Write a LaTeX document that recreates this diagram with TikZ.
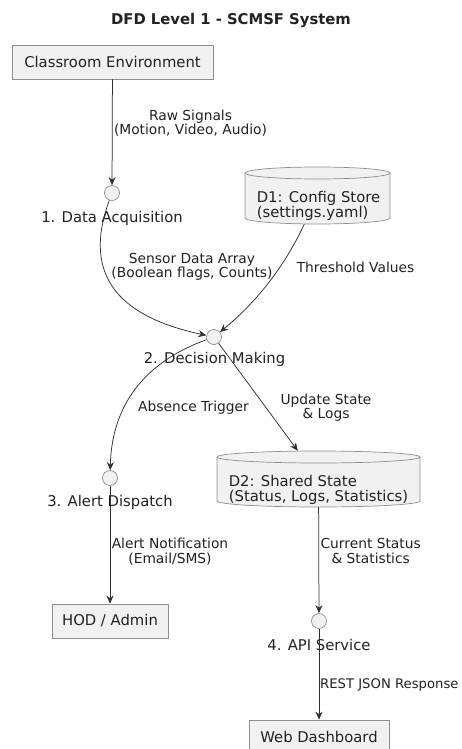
\documentclass[tikz,border=0pt]{standalone}
\usepackage{fontspec}
\setmainfont{DejaVu Sans}
\usetikzlibrary{arrows.meta}
\definecolor{boxfill}{HTML}{F1F1F1}
\definecolor{boxline}{HTML}{8E8E8E}
\definecolor{flowline}{HTML}{303030}
\definecolor{txt}{HTML}{222222}
\begin{document}
\begin{tikzpicture}[x=1pt,y=-1pt,
  entity/.style={draw=boxline, fill=boxfill, line width=0.7pt, minimum height=34pt, inner sep=0pt, text=txt, font=\fontsize{14.8}{15.5}\selectfont},
  proc/.style={circle, draw=boxline, fill=boxfill, line width=0.7pt, minimum size=15pt, inner sep=0pt},
  plabel/.style={inner sep=0pt, text=txt, font=\fontsize{14.8}{15.5}\selectfont},
  flabel/.style={inner sep=0pt, align=center, text=txt, font=\fontsize{13.8}{14.5}\selectfont},
  dbbox/.style={inner sep=0pt, draw=none},
  dbtext/.style={inner sep=0pt, align=left, text=txt, font=\fontsize{14.8}{15}\selectfont},
  dbshape/.style={draw=boxline, fill=boxfill, line width=0.7pt},
  flow/.style={draw=flowline, line width=0.75pt, -{Stealth[length=8pt,width=7pt,inset=2.5pt]}}
]
\useasboundingbox (0,0) rectangle (462,749);
\clip (0,0) rectangle (462,749);

% title
\node[inner sep=0pt, text=txt, font=\fontsize{14.8}{16}\selectfont\bfseries] (title) at (231,20) {DFD Level 1 - SCMSF System};

% entities
\node[entity, minimum width=201pt] (env) at (112.5,62) {Classroom Environment};
\node[entity, minimum width=116pt] (hod) at (110,621) {HOD / Admin};
\node[entity, minimum width=140pt] (web) at (319,737) {Web Dashboard};

% data stores (shapes)
\filldraw[dbshape] (245,173) -- (245,218) arc[start angle=180,end angle=0,x radius=72.5,y radius=6] -- (390,173) arc[start angle=0,end angle=-180,x radius=72.5,y radius=6] -- cycle;
\draw[dbshape, fill=none] (245,173) arc[start angle=180,end angle=0,x radius=72.5,y radius=6];
\node[dbbox, minimum width=145pt, minimum height=57pt] (d1) at (317.5,195.5) {};
\node[dbtext] (d1t) at (318.5,206) {D1: Config Store\\(settings.yaml)};

\filldraw[dbshape] (217,457) -- (217,501) arc[start angle=180,end angle=0,x radius=101.5,y radius=6] -- (420,457) arc[start angle=0,end angle=-180,x radius=101.5,y radius=6] -- cycle;
\draw[dbshape, fill=none] (217,457) arc[start angle=180,end angle=0,x radius=101.5,y radius=6];
\node[dbbox, minimum width=203pt, minimum height=56pt] (d2) at (318.5,479) {};
\node[dbtext] (d2t) at (318.5,490) {D2: Shared State\\(Status, Logs, Statistics)};

% processes
\node[proc] (p1) at (112,193) {};
\node[proc] (p2) at (214,337) {};
\node[proc] (p3) at (110,478) {};
\node[proc] (p4) at (319,621) {};

\node[plabel] (p1l) at (112,218) {1. Data Acquisition};
\node[plabel] (p2l) at (214.5,359) {2. Decision Making};
\node[plabel] (p3l) at (110,502) {3. Alert Dispatch};
\node[plabel] (p4l) at (319,645) {4. API Service};

% flows
\draw[flow] (env) -- (p1);
\draw[flow] (p1) .. controls (80,280) and (125,318) .. (p2);
\draw[flow] (d1) .. controls (290,255) and (265,295) .. (p2);
\draw[flow] (p2) .. controls (150,360) and (112,400) .. (p3);
\draw[flow] (p2) -- (d2);
\draw[flow] (p3) -- (hod);
\draw[flow] (d2) -- (p4);
\draw[flow] (p4) -- (web);

% flow labels
\node[flabel] (f1) at (190.5,123) {Raw Signals\\(Motion, Video, Audio)};
\node[flabel] (f2) at (192,267) {Sensor Data Array\\(Boolean flags, Counts)};
\node[flabel] (f3) at (355.5,267) {Threshold Values};
\node[flabel] (f4) at (193.5,408) {Absence Trigger};
\node[flabel] (f5) at (326,407.5) {Update State\\\& Logs};
\node[flabel] (f6) at (170,551.5) {Alert Notification\\(Email/SMS)};
\node[flabel] (f7) at (370.7,551) {Current Status\\\& Statistics};
\node[flabel, anchor=west, font=\fontsize{13.2}{14}\selectfont] (f8) at (320,685) {REST JSON Response};
\end{tikzpicture}
\end{document}
